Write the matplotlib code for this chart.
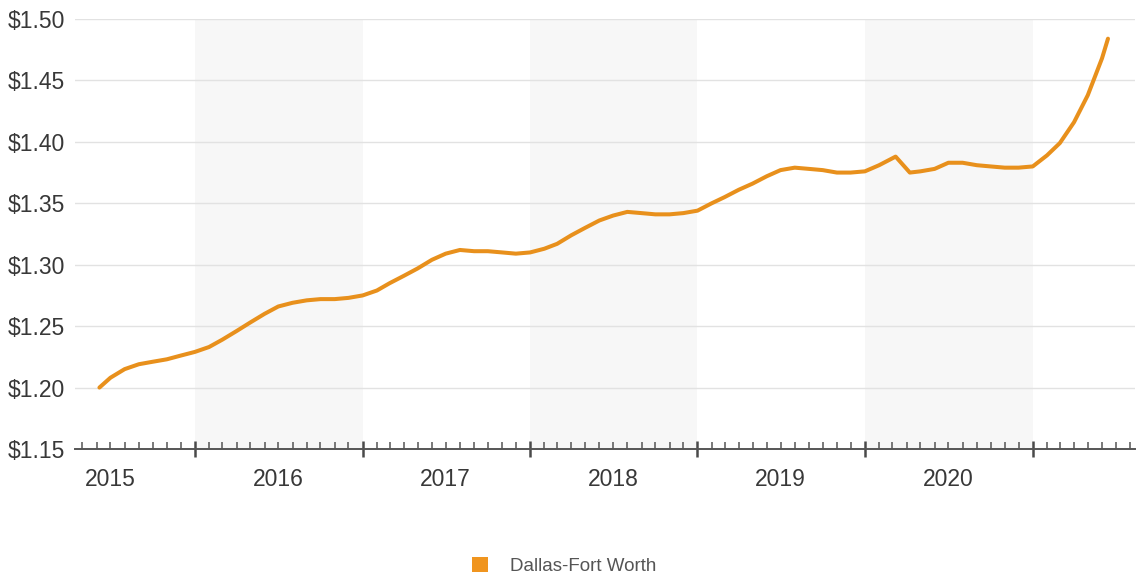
import matplotlib
matplotlib.use("Agg")
import matplotlib.pyplot as plt
import matplotlib.dates as mdates
import pandas as pd
from matplotlib.ticker import FuncFormatter
from matplotlib.patches import Patch

plt.rcParams['font.family'] = ['Liberation Sans', 'DejaVu Sans']

series_name = "Dallas-Fort Worth"

dates = [
    "2015-06-07", "2015-07-01", "2015-08-01", "2015-09-01", "2015-10-01", "2015-11-01", "2015-12-01",
    "2016-01-01", "2016-02-01", "2016-03-01", "2016-04-01", "2016-05-01", "2016-06-01",
    "2016-07-01", "2016-08-01", "2016-09-01", "2016-10-01", "2016-11-01", "2016-12-01",
    "2017-01-01", "2017-02-01", "2017-03-01", "2017-04-01", "2017-05-01", "2017-06-01",
    "2017-07-01", "2017-08-01", "2017-09-01", "2017-10-01", "2017-11-01", "2017-12-01",
    "2018-01-01", "2018-02-01", "2018-03-01", "2018-04-01", "2018-05-01", "2018-06-01",
    "2018-07-01", "2018-08-01", "2018-09-01", "2018-10-01", "2018-11-01", "2018-12-01",
    "2019-01-01", "2019-02-01", "2019-03-01", "2019-04-01", "2019-05-01", "2019-06-01",
    "2019-07-01", "2019-08-01", "2019-09-01", "2019-10-01", "2019-11-01", "2019-12-01",
    "2020-01-01", "2020-02-01", "2020-03-08", "2020-04-08", "2020-05-01", "2020-06-01",
    "2020-07-01", "2020-08-01", "2020-09-01", "2020-10-01", "2020-11-01", "2020-12-01",
    "2021-01-01", "2021-02-01", "2021-03-01", "2021-04-01", "2021-05-01", "2021-06-01",
    "2021-06-14",
]

prices = [
    1.200, 1.208, 1.215, 1.219, 1.221, 1.223, 1.226,
    1.229, 1.233, 1.239, 1.246, 1.253, 1.260,
    1.266, 1.269, 1.271, 1.272, 1.272, 1.273,
    1.275, 1.279, 1.285, 1.291, 1.297, 1.304,
    1.309, 1.312, 1.311, 1.311, 1.310, 1.309,
    1.310, 1.313, 1.317, 1.324, 1.330, 1.336,
    1.340, 1.343, 1.342, 1.341, 1.341, 1.342,
    1.344, 1.350, 1.355, 1.361, 1.366, 1.372,
    1.377, 1.379, 1.378, 1.377, 1.375, 1.375,
    1.376, 1.381, 1.388, 1.375, 1.376, 1.378,
    1.383, 1.383, 1.381, 1.380, 1.379, 1.379,
    1.380, 1.389, 1.399, 1.416, 1.438, 1.468,
    1.484,
]

years = [2015, 2016, 2017, 2018, 2019, 2020]
shaded_years = [2016, 2018, 2020]
y_ticks = [1.15, 1.20, 1.25, 1.30, 1.35, 1.40, 1.45, 1.50]

line_color = "#E8901C"
text_color = "#383838"

x = pd.to_datetime(dates)

fig = plt.figure(figsize=(11.38, 5.76), dpi=100)
ax = fig.add_axes([0.066, 0.2205, 0.9314, 0.7465])

# alternating year bands
for yr in shaded_years:
    ax.axvspan(pd.Timestamp(f"{yr}-01-01"), pd.Timestamp(f"{yr + 1}-01-01"),
               color="#f7f7f7", lw=0, zorder=0)

ax.plot(x, prices, color=line_color, lw=2.9, solid_capstyle="round",
        solid_joinstyle="round", zorder=3)

ax.set_xlim(pd.Timestamp("2015-04-15"), pd.Timestamp("2021-08-12"))
ax.set_ylim(1.15, 1.50)

ax.set_yticks(y_ticks)
ax.yaxis.set_major_formatter(FuncFormatter(lambda v, p: f"${v:.2f}"))
ax.tick_params(axis="y", length=0, pad=7, labelsize=16.5, labelcolor=text_color)
ax.grid(axis="y", color="#e2e2e2", lw=1.0, zorder=1)

# year boundaries as major ticks, months as minor ticks, labels at mid-year
ax.xaxis.set_major_locator(mdates.YearLocator())
ax.xaxis.set_major_formatter(plt.NullFormatter())
ax.xaxis.set_minor_locator(mdates.MonthLocator())
ax.tick_params(axis="x", which="major", direction="inout", length=12, width=1.8, color="#4a4a4a")
ax.tick_params(axis="x", which="minor", direction="in", length=5, width=1.1, color="#555555")
for yr in years:
    ax.text(pd.Timestamp(f"{yr}-07-01"), -0.045, str(yr), transform=ax.get_xaxis_transform(),
            ha="center", va="top", fontsize=16.5, color=text_color)

for side in ["top", "right", "left"]:
    ax.spines[side].set_visible(False)
ax.spines["bottom"].set_color("#555555")
ax.spines["bottom"].set_linewidth(1.4)

handle = Patch(facecolor="#F0951F", edgecolor="none")
fig.legend([handle], [series_name], loc="center", bbox_to_anchor=(0.496, 0.018),
           frameon=False, fontsize=13.5, labelcolor="#555555", handlelength=0.85,
           handleheight=0.85, handletextpad=1.2)

fig.savefig("out.png", dpi=100, facecolor="white")
